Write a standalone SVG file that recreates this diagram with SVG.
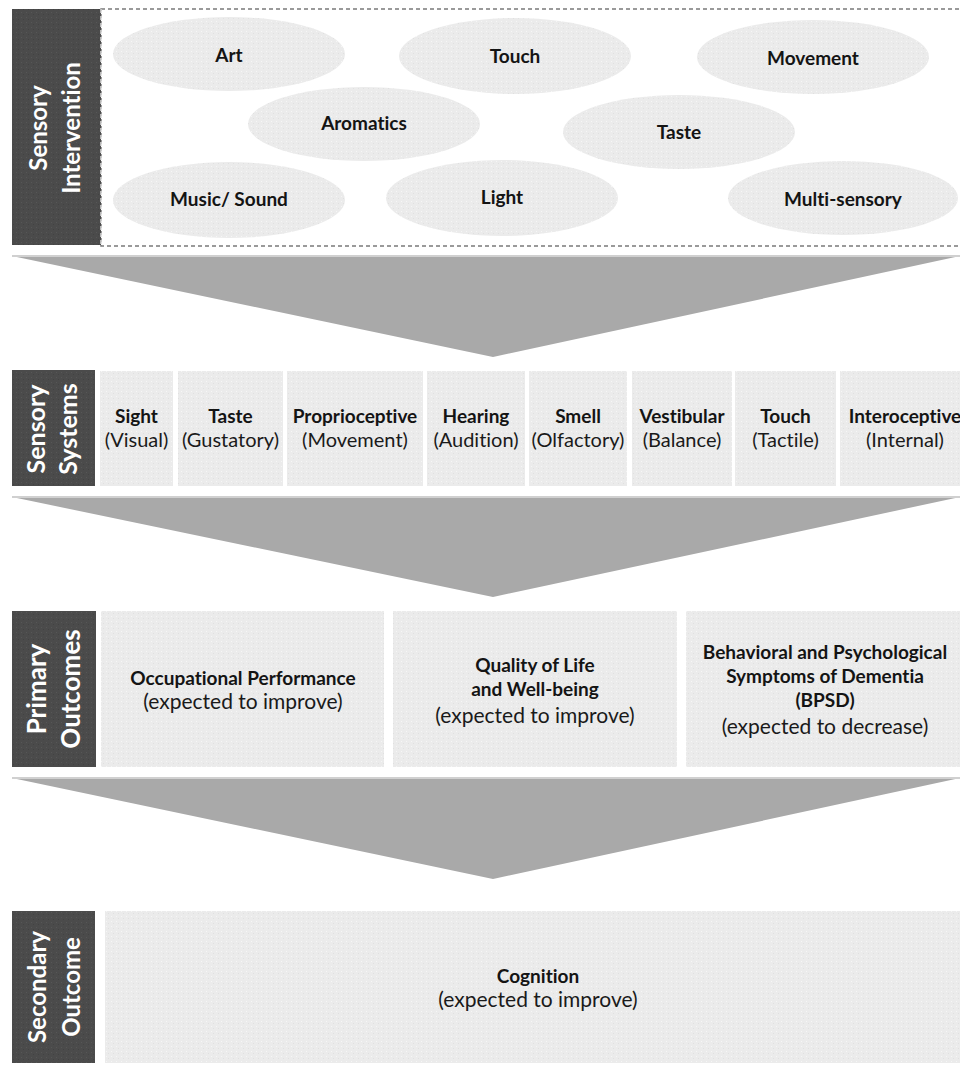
<svg xmlns="http://www.w3.org/2000/svg" width="960" height="1065" viewBox="0 0 960 1065">
<defs>
<pattern id="lt" width="5" height="5" patternUnits="userSpaceOnUse">
<rect width="5" height="5" fill="#ebebeb"/>
<rect x="1" y="1" width="1" height="1" fill="#f6f6f6"/>
<rect x="3" y="3" width="1" height="1" fill="#e0e0e0"/>
</pattern>
<pattern id="dk" width="5" height="5" patternUnits="userSpaceOnUse">
<rect width="5" height="5" fill="#4b4b4b"/>
<rect x="1" y="2" width="1" height="1" fill="#575757"/>
<rect x="3" y="4" width="1" height="1" fill="#424242"/>
</pattern>
<style>
text{font-variant-ligatures:none}
.lab{fill:url(#dk)}
.cell{fill:url(#lt)}
.ell{fill:url(#lt)}
.lt{font-family:Lato,"Liberation Sans",sans-serif;font-weight:bold;fill:#fff;text-anchor:middle}
.b{font-family:Lato,"Liberation Sans",sans-serif;font-weight:bold;font-size:19px;fill:#141414;text-anchor:middle}
.n{font-family:Lato,"Liberation Sans",sans-serif;font-size:20px;fill:#1a1a1a;text-anchor:middle}
.n2{font-family:Lato,"Liberation Sans",sans-serif;font-size:21px;fill:#1a1a1a;text-anchor:middle}
.arr{fill:#a9a9a9}
.arrtop{stroke:#d0d0d0;stroke-width:2}
</style>
</defs>
<rect width="960" height="1065" fill="#fff"/>

<g id="connectors">
<polygon class="arr" points="12,256 960,256 493,357"/>
<line class="arrtop" x1="12" y1="256" x2="960" y2="256"/>
<polygon class="arr" points="12,497 960,497 493,597"/>
<line class="arrtop" x1="12" y1="497" x2="960" y2="497"/>
<polygon class="arr" points="12,778 960,778 493,879"/>
<line class="arrtop" x1="12" y1="778" x2="960" y2="778"/>
</g>

<g id="sensory-intervention">
<rect x="101" y="9" width="870" height="237" fill="#fff" stroke="#7a7a7a" stroke-width="1.5" stroke-dasharray="4 3"/>
<rect class="lab" x="12" y="9" width="89" height="236"/>
<line x1="101" y1="9" x2="101" y2="246" stroke="#dcdcdc" stroke-width="1.5" stroke-dasharray="4 3"/>
<text class="lt" font-size="24" transform="translate(47,128) rotate(-90)">Sensory</text>
<text class="lt" font-size="24" transform="translate(80,128) rotate(-90)">Intervention</text>
</g>
<g id="art"><ellipse class="ell" cx="229" cy="54" rx="116" ry="37"/><text class="b" x="229" y="62">Art</text></g>
<g id="touch-i"><ellipse class="ell" cx="515" cy="56" rx="116" ry="38"/><text class="b" x="515" y="63">Touch</text></g>
<g id="movement"><ellipse class="ell" cx="813" cy="57" rx="116" ry="37"/><text class="b" x="813" y="65">Movement</text></g>
<g id="aromatics"><ellipse class="ell" cx="364" cy="124" rx="116" ry="37"/><text class="b" x="364" y="130">Aromatics</text></g>
<g id="taste-i"><ellipse class="ell" cx="679" cy="132" rx="116" ry="37"/><text class="b" x="679" y="139">Taste</text></g>
<g id="music"><ellipse class="ell" cx="229" cy="200" rx="116" ry="38"/><text class="b" x="229" y="206">Music/ Sound</text></g>
<g id="light"><ellipse class="ell" cx="502" cy="198" rx="116" ry="38"/><text class="b" x="502" y="204">Light</text></g>
<g id="multi"><ellipse class="ell" cx="843" cy="198" rx="115" ry="37"/><text class="b" x="843" y="206">Multi-sensory</text></g>

<g id="sensory-systems">
<rect class="lab" x="12" y="370" width="83" height="116"/>
<text class="lt" font-size="25" transform="translate(45,429) rotate(-90)">Sensory</text>
<text class="lt" font-size="25" transform="translate(77,429) rotate(-90)">Systems</text>
</g>
<g id="sight"><rect class="cell" x="100" y="371" width="73" height="115"/><text class="b" x="136.5" y="423">Sight</text><text class="n" x="136.5" y="447">(Visual)</text></g>
<g id="taste"><rect class="cell" x="178" y="371" width="105" height="115"/><text class="b" x="230.5" y="423">Taste</text><text class="n" x="230.5" y="447">(Gustatory)</text></g>
<g id="proprioceptive"><rect class="cell" x="287" y="371" width="136" height="115"/><text class="b" x="355" y="423">Proprioceptive</text><text class="n" x="355" y="447">(Movement)</text></g>
<g id="hearing"><rect class="cell" x="427" y="371" width="98" height="115"/><text class="b" x="476" y="423">Hearing</text><text class="n" x="476" y="447">(Audition)</text></g>
<g id="smell"><rect class="cell" x="529" y="371" width="98" height="115"/><text class="b" x="578" y="423">Smell</text><text class="n" x="578" y="447">(Olfactory)</text></g>
<g id="vestibular"><rect class="cell" x="632" y="371" width="100" height="115"/><text class="b" x="682" y="423">Vestibular</text><text class="n" x="682" y="447">(Balance)</text></g>
<g id="touch"><rect class="cell" x="735" y="371" width="101" height="115"/><text class="b" x="785.5" y="423">Touch</text><text class="n" x="785.5" y="447">(Tactile)</text></g>
<g id="interoceptive"><rect class="cell" x="840" y="371" width="130" height="115"/><text class="b" x="905" y="423">Interoceptive</text><text class="n" x="905" y="447">(Internal)</text></g>

<g id="primary-outcomes">
<rect class="lab" x="12" y="611" width="84" height="156"/>
<text class="lt" font-size="26" transform="translate(46,689) rotate(-90)">Primary</text>
<text class="lt" font-size="26" transform="translate(80,689) rotate(-90)">Outcomes</text>
</g>
<g id="occupational"><rect class="cell" x="101" y="611" width="283" height="156"/><text class="b" x="243" y="685">Occupational Performance</text><text class="n2" x="243" y="709">(expected to improve)</text></g>
<g id="quality"><rect class="cell" x="393" y="611" width="284" height="156"/><text class="b" x="535" y="672">Quality of Life</text><text class="b" x="535" y="696">and Well-being</text><text class="n2" x="535" y="723">(expected to improve)</text></g>
<g id="bpsd"><rect class="cell" x="686" y="611" width="284" height="156"/><text class="b" x="825" y="659">Behavioral and Psychological</text><text class="b" x="825" y="683">Symptoms of Dementia</text><text class="b" x="825" y="707">(BPSD)</text><text class="n2" x="825" y="734">(expected to decrease)</text></g>

<g id="secondary-outcome">
<rect class="lab" x="12" y="911" width="83" height="152"/>
<text class="lt" font-size="24" transform="translate(46,987) rotate(-90)">Secondary</text>
<text class="lt" font-size="24" transform="translate(80,987) rotate(-90)">Outcome</text>
</g>
<g id="cognition"><rect class="cell" x="105" y="911" width="865" height="152"/><text class="b" x="538" y="983">Cognition</text><text class="n2" x="538" y="1007">(expected to improve)</text></g>
</svg>
